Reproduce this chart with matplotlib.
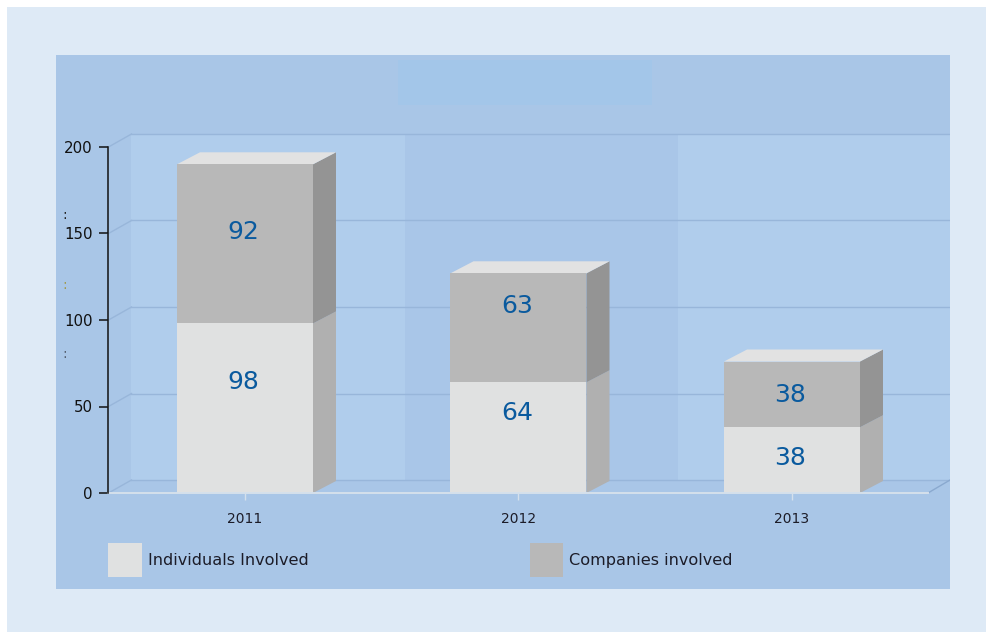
import matplotlib
matplotlib.use("Agg")
import matplotlib.pyplot as plt
from matplotlib.patches import Rectangle

years = ["2011", "2012", "2013"]
individuals = [98, 64, 38]
companies = [92, 63, 38]
y_ticks = [0, 50, 100, 150, 200]

W, H = 987, 633
PANEL = (56, 55, 950, 589)       # left, top, right, bottom in pixels
X_C0, X_STEP = 245.0, 273.5      # pixel centre of the first bar, spacing between bars
Y0, PX_PER_UNIT = 493.0, 1.73    # pixel row of value 0, pixels per value unit

FRAME = "#deeaf6"
PANEL_BLUE = "#a9c6e7"
WALL_LIGHT = "#b0cdec"
WALL_DARK = "#a9c6e8"
GRID = "#98b6da"
FRONT_LOW, SIDE_LOW = "#e0e1e1", "#b0b0b0"
FRONT_HIGH, SIDE_HIGH = "#b8b8b8", "#949494"
TOP = "#e2e2e2"
LABEL_BLUE = "#0a5a9e"
TEXT = "#1c1c28"

fig = plt.figure(figsize=(W / 100, H / 100), dpi=100, facecolor="white")
fig.patches.append(Rectangle((7 / W, 1 - 632 / H), 980 / W, 625 / H, zorder=-1,
                             transform=fig.transFigure, facecolor=FRAME, edgecolor="none"))

left, top, right, bottom = PANEL
ax = fig.add_axes([left / W, 1 - bottom / H, (right - left) / W, (bottom - top) / H])
ax.set_facecolor(PANEL_BLUE)
ax.set_xlim((left - X_C0) / X_STEP, (right - X_C0) / X_STEP)
ax.set_ylim((Y0 - bottom) / PX_PER_UNIT, (Y0 - top) / PX_PER_UNIT)


def px_x(px):
    return (px - X_C0) / X_STEP


def px_y(px):
    return (Y0 - px) / PX_PER_UNIT


# Depth of the pseudo-3D projection, in data units
wall_dx = 23 / X_STEP
wall_dy = 13 / PX_PER_UNIT
bar_dx = 23 / X_STEP
bar_dy = 12 / PX_PER_UNIT
bar_width = 136 / X_STEP
x_axis = px_x(108.5)
x_wall = x_axis + wall_dx
x_end = px_x(950)

# Pale banner at the top of the panel
ax.add_patch(Rectangle((px_x(398), px_y(105)), 254 / X_STEP, 45 / PX_PER_UNIT,
                       facecolor="#a3c6e9", edgecolor="none", zorder=1))

# Back wall bands, one for each category
band_edges = [x_wall, px_x(405), px_x(678.5), x_end]
for i, colour in enumerate([WALL_LIGHT, WALL_DARK, WALL_LIGHT]):
    ax.add_patch(Rectangle((band_edges[i], wall_dy), band_edges[i + 1] - band_edges[i], y_ticks[-1],
                           facecolor=colour, edgecolor="none", zorder=1))

# Grid lines across the back wall and down the side wall
for v in y_ticks:
    ax.plot([x_wall, x_end], [v + wall_dy, v + wall_dy], color=GRID, lw=1, zorder=2)
    ax.plot([x_axis, x_wall], [v, v + wall_dy], color=GRID, lw=1, zorder=2)
ax.plot([px_x(928), x_end], [0, wall_dy], color="#8aa9cf", lw=1, zorder=2)


def draw_side(x, base, height, colour):
    xr = x + bar_width / 2
    ax.fill([xr, xr + bar_dx, xr + bar_dx, xr],
            [base, base + bar_dy, base + height + bar_dy, base + height],
            color=colour, lw=0, zorder=3)


positions = list(range(len(years)))
low_bars = ax.bar(positions, individuals, bar_width, color=FRONT_LOW, zorder=4,
                  label="Individuals Involved")
high_bars = ax.bar(positions, companies, bar_width, bottom=individuals, color=FRONT_HIGH, zorder=4,
                   label="Companies involved")

for x, low, high in zip(positions, individuals, companies):
    draw_side(x, 0, low, SIDE_LOW)
    draw_side(x, low, high, SIDE_HIGH)
    total = low + high
    xl, xr = x - bar_width / 2, x + bar_width / 2
    ax.fill([xl, xr, xr + bar_dx, xl + bar_dx],
            [total, total, total + bar_dy, total + bar_dy], color=TOP, lw=0, zorder=3)

# Value labels sit at their own heights within each segment
low_label_px = [382, 413, 458]
high_label_px = [232, 306, 395]
label_x_px = [243.5, 517, 790.5]
for xp, yl, yh, low, high in zip(label_x_px, low_label_px, high_label_px, individuals, companies):
    for yp, val in ((yl, low), (yh, high)):
        ax.text(px_x(xp), px_y(yp), str(val), color=LABEL_BLUE, fontsize=18,
                ha="center", va="center", zorder=6, fontfamily="DejaVu Sans")

# Axes: vertical value axis and pale floor line
for name in ("top", "right"):
    ax.spines[name].set_visible(False)
ax.spines["left"].set_position(("data", x_axis))
ax.spines["left"].set_bounds(0, y_ticks[-1])
ax.spines["left"].set_color("#111111")
ax.spines["left"].set_linewidth(1.1)
ax.spines["left"].set_zorder(7)
ax.spines["bottom"].set_position(("data", 0))
ax.spines["bottom"].set_bounds(x_axis, px_x(928))
ax.spines["bottom"].set_color("#d5e0ec")
ax.spines["bottom"].set_linewidth(1.4)
ax.spines["bottom"].set_zorder(5)

ax.set_yticks(y_ticks)
ax.tick_params(axis="y", length=6.5, width=1.1, color="#111111", pad=5, labelsize=10.8, labelcolor="#111111")
ax.set_xticks(positions, years)
ax.tick_params(axis="x", length=5, width=1, color="#d5e0ec", pad=8.5, labelsize=10, labelcolor=TEXT)

# Faint colons left of the value axis
for yp, colour in ((215, "#222222"), (285, "#a09a50"), (354, "#556070")):
    ax.text(px_x(65), px_y(yp), ":", color=colour, fontsize=10, ha="center", va="center", zorder=6)

legend = ax.legend(handles=[low_bars, high_bars], ncol=2, frameon=False, fontsize=11.6,
                   loc="center left", bbox_to_anchor=(108 / W, 1 - 560 / H),
                   bbox_transform=fig.transFigure, borderpad=0, borderaxespad=0,
                   handlelength=2.1, handleheight=2.84, handletextpad=0.37, columnspacing=13.72,
                   labelcolor=TEXT)

fig.savefig("out.png", dpi=100, facecolor=fig.get_facecolor())
